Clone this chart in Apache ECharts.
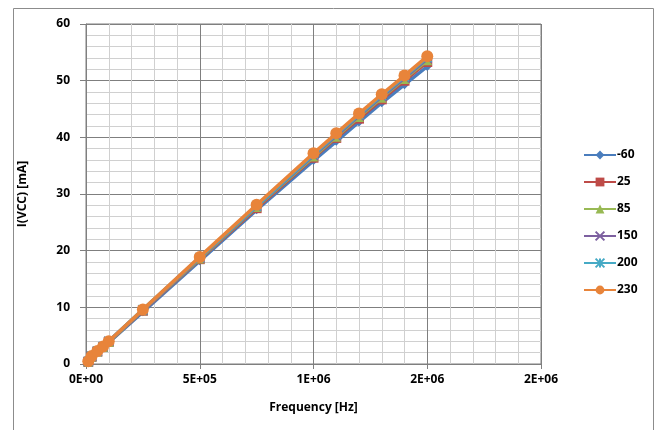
<!DOCTYPE html>
<html>
<head>
<meta charset="utf-8">
<script src="https://cdn.jsdelivr.net/npm/echarts@6/dist/echarts.min.js"></script>
<style>html,body{margin:0;padding:0;background:#fff}#c{width:656px;height:430px}</style>
</head>
<body>
<div id="c"></div>
<script>
var freq = [10000, 25000, 50000, 75000, 100000, 250000, 500000, 750000, 1000000, 1100000, 1200000, 1300000, 1400000, 1500000];
var seriesNames = ['-60', '25', '85', '150', '200', '230'];
var sM60 = [0.3, 1.2, 2.1, 2.9, 3.8, 9.2, 18.2, 27.2, 35.9, 39.3, 42.7, 46.1, 49.3, 52.5];
var s25  = [0.4, 1.3, 2.2, 3.0, 3.9, 9.4, 18.5, 27.5, 36.4, 39.9, 43.3, 46.7, 50.0, 53.3];
var s85  = [0.4, 1.3, 2.2, 3.0, 3.9, 9.5, 18.6, 27.7, 36.6, 40.1, 43.6, 47.0, 50.3, 53.6];
var s150 = [0.4, 1.3, 2.2, 3.1, 4.0, 9.5, 18.7, 27.8, 36.8, 40.3, 43.8, 47.2, 50.5, 53.9];
var s200 = [0.5, 1.4, 2.3, 3.1, 4.0, 9.6, 18.8, 27.9, 37.0, 40.5, 44.0, 47.4, 50.7, 54.1];
var s230 = [0.5, 1.4, 2.3, 3.1, 4.0, 9.6, 18.9, 28.1, 37.2, 40.7, 44.2, 47.6, 50.9, 54.3];
var xTickLabels = ['0E+00', '5E+05', '1E+06', '2E+06', '2E+06'];
var yTickLabels = ['0', '10', '20', '30', '40', '50', '60'];

var allValues = [sM60, s25, s85, s150, s200, s230];
var colors = ['#4a7dbd', '#be4b48', '#98b954', '#7d60a0', '#46aac5', '#e8843a'];
var symbols = [
  'diamond', 'rect', 'triangle',
  'path://M0,0L10,10M10,0L0,10',
  'path://M0,0L10,10M10,0L0,10M5,0L5,10',
  'circle'
];
var sizes = [9, 10, 10, 9, 9, 12];

function pairs(vals) { return freq.map(function (f, i) { return [f, vals[i]]; }); }

var series = seriesNames.map(function (n, k) {
  var isPath = k === 3 || k === 4;
  return {
    name: n, type: 'line', data: pairs(allValues[k]),
    symbol: symbols[k], symbolSize: sizes[k], showSymbol: true,
    lineStyle: { color: colors[k], width: 3.5 },
    itemStyle: isPath ? { color: colors[k], borderColor: colors[k], borderWidth: 1.5 } : { color: colors[k], borderWidth: 0 },
    animation: false, z: 2 + k
  };
});

var font = '"Open Sans", "Liberation Sans", sans-serif';
var chart = echarts.init(document.getElementById('c'), null, { renderer: 'canvas' });
chart.setOption({
  backgroundColor: '#fff',
  animation: false,
  color: colors,
  graphic: [{ type: 'rect', shape: { x: 13.5, y: 8.5, width: 640, height: 440 }, style: { fill: 'none', stroke: '#8c8c8c', lineWidth: 1 }, silent: true }],
  grid: { left: 86, right: 115, top: 24, bottom: 66, show: true, borderColor: '#7f7f7f', borderWidth: 1 },
  legend: {
    orient: 'vertical', left: 578, top: 144, itemWidth: 32, itemHeight: 11, itemGap: 15,
    data: seriesNames,
    textStyle: { fontFamily: font, fontWeight: 'bold', fontSize: 12, color: '#000', padding: [0, 0, 0, -4] }
  },
  xAxis: {
    type: 'value', min: 0, max: 2000000, interval: 500000,
    name: 'Frequency [Hz]', nameLocation: 'middle', nameGap: 38,
    nameTextStyle: { fontFamily: font, fontWeight: 'bold', fontSize: 12, color: '#000' },
    axisLine: { show: true, lineStyle: { color: '#7f7f7f', width: 1 } },
    axisTick: { show: true, length: 5, lineStyle: { color: '#7f7f7f' } },
    axisLabel: { fontFamily: font, fontWeight: 'bold', fontSize: 12, color: '#000', margin: 10,
      formatter: function (v, i) { return xTickLabels[Math.round(v / 500000)]; } },
    splitLine: { show: true, lineStyle: { color: '#7f7f7f', width: 1 } },
    minorTick: { show: false, splitNumber: 5 },
    minorSplitLine: { show: true, lineStyle: { color: '#d0d0d0', width: 1 } }
  },
  yAxis: {
    type: 'value', min: 0, max: 60, interval: 10,
    name: 'I(VCC) [mA]', nameLocation: 'middle', nameGap: 57, nameRotate: 90,
    nameTextStyle: { fontFamily: font, fontWeight: 'bold', fontSize: 12, color: '#000' },
    axisLine: { show: true, lineStyle: { color: '#7f7f7f', width: 1 } },
    axisTick: { show: true, length: 6, lineStyle: { color: '#7f7f7f' } },
    axisLabel: { fontFamily: font, fontWeight: 'bold', fontSize: 12, color: '#000', margin: 16,
      formatter: function (v) { return yTickLabels[Math.round(v / 10)]; } },
    splitLine: { show: true, lineStyle: { color: '#7f7f7f', width: 1 } },
    minorTick: { show: false, splitNumber: 5 },
    minorSplitLine: { show: true, lineStyle: { color: '#d0d0d0', width: 1 } }
  },
  series: series
});
</script>
</body>
</html>
